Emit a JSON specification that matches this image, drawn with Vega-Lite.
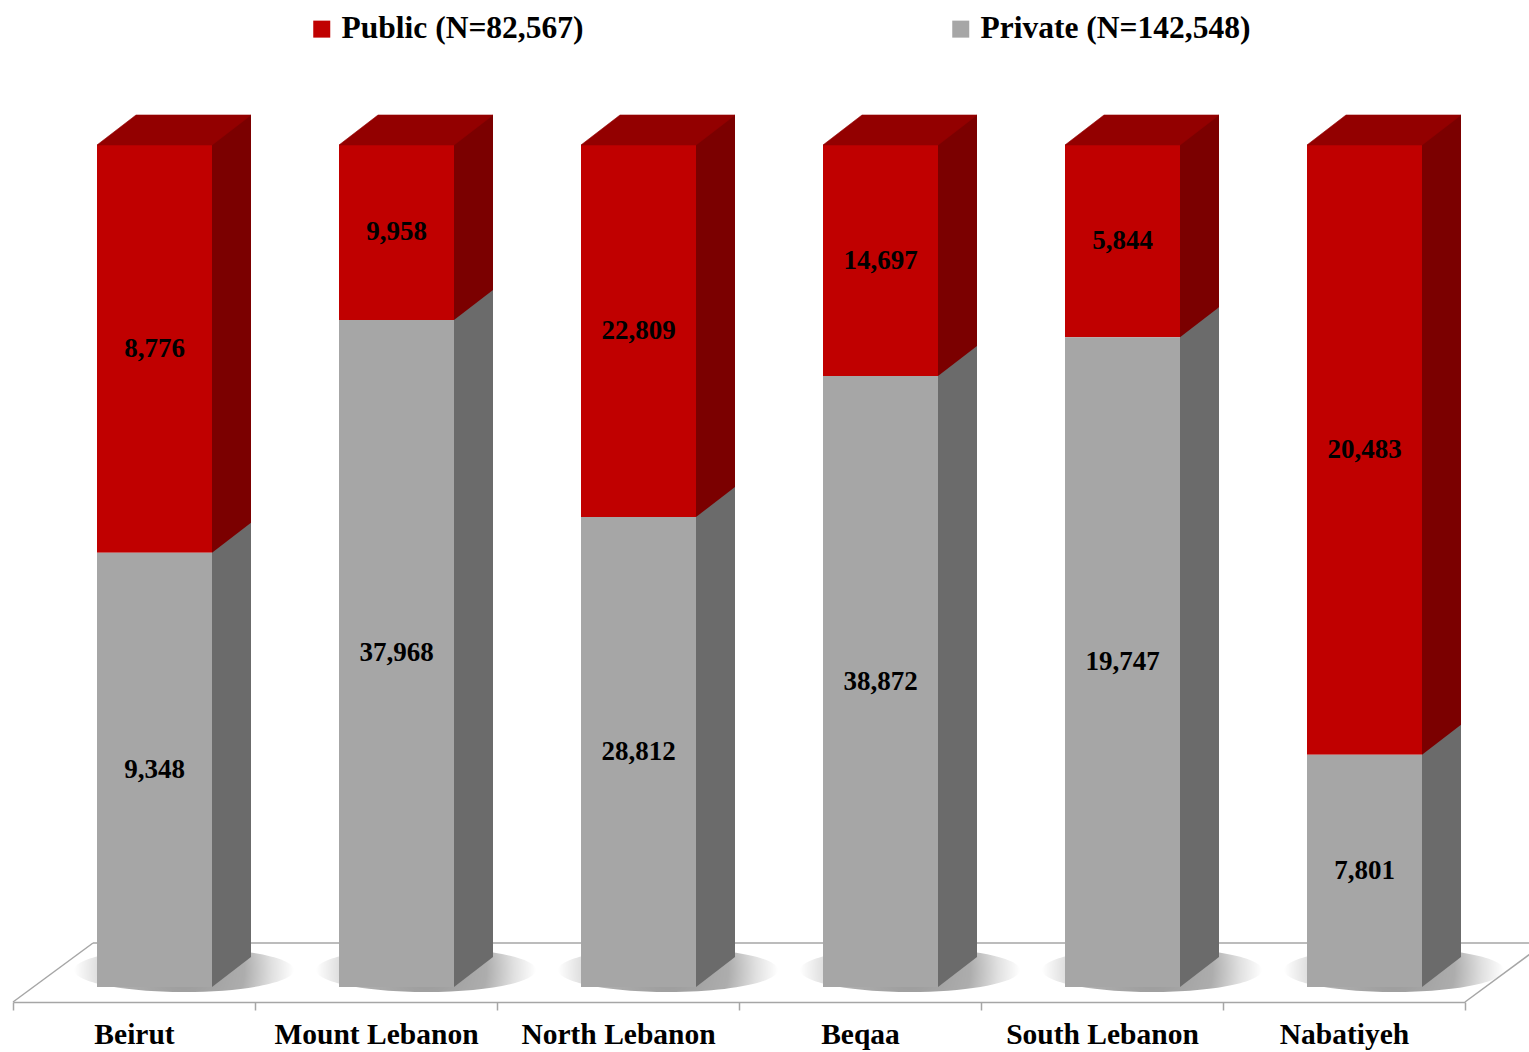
{
  "$schema": "https://vega.github.io/schema/vega-lite/v6.json",
  "width": 1452,
  "height": 842,
  "autosize": {"type": "none"},
  "padding": {"left": 13, "top": 145, "right": 64, "bottom": 65},
  "background": "white",
  "config": {
    "view": {"stroke": null},
    "font": "Liberation Serif",
    "axisX": {
      "offset": 15, "domainColor": "#A6A6A6", "domainWidth": 1.5,
      "tickColor": "#A6A6A6", "tickWidth": 1.5, "tickSize": 8, "tickBand": "extent",
      "labelFont": "Liberation Serif", "labelFontWeight": "bold", "labelFontSize": 29.5, "labelColor": "black",
      "labelPadding": 10, "labelAngle": 0, "labelLimit": 300, "grid": false
    }
  },
  "data": {
    "values": [
      {"region": "Beirut", "type": "Public", "value": 8776},
      {"region": "Beirut", "type": "Private", "value": 9348},
      {"region": "Mount Lebanon", "type": "Public", "value": 9958},
      {"region": "Mount Lebanon", "type": "Private", "value": 37968},
      {"region": "North Lebanon", "type": "Public", "value": 22809},
      {"region": "North Lebanon", "type": "Private", "value": 28812},
      {"region": "Beqaa", "type": "Public", "value": 14697},
      {"region": "Beqaa", "type": "Private", "value": 38872},
      {"region": "South Lebanon", "type": "Public", "value": 5844},
      {"region": "South Lebanon", "type": "Private", "value": 19747},
      {"region": "Nabatiyeh", "type": "Public", "value": 20483},
      {"region": "Nabatiyeh", "type": "Private", "value": 7801}
    ]
  },
  "layer": [
    {
      "transform": [{"filter": "datum.type === 'Public'"}],
      "mark": {
        "type": "point", "shape": "M-1,0A1,0.2 0 1,0 1,0A1,0.2 0 1,0 -1,0Z", "size": 48400,
        "filled": true, "opacity": 1, "strokeWidth": 0, "xOffset": 50, "yOffset": -17,
        "fill": {"gradient": "radial", "stops": [
          {"offset": 0, "color": "rgba(0,0,0,0.4)"},
          {"offset": 0.55, "color": "rgba(0,0,0,0.32)"},
          {"offset": 0.8, "color": "rgba(0,0,0,0.12)"},
          {"offset": 1, "color": "rgba(0,0,0,0)"}
        ]}
      },
      "encoding": {
        "x": {"field": "region", "type": "nominal", "sort": null, "title": null, "scale": {"domain": ["Beirut", "Mount Lebanon", "North Lebanon", "Beqaa", "South Lebanon", "Nabatiyeh"], "paddingInner": 0, "paddingOuter": 0}},
        "y": {"datum": 0, "type": "quantitative", "scale": {"domain": [0, 1], "nice": false}, "axis": null}
      }
    },
    {
      "data": {"values": [{}]},
      "mark": {"type": "rule", "color": "#A6A6A6", "strokeWidth": 1.5, "xOffset": -41, "x2Offset": 201, "yOffset": -44},
      "encoding": {
        "x": {"datum": "Beirut", "type": "nominal", "title": null},
        "x2": {"datum": "Nabatiyeh"},
        "y": {"datum": 0, "type": "quantitative", "axis": null}
      }
    },
    {
      "data": {"values": [{}]},
      "mark": {"type": "point", "shape": "M-1,0.7375L1,-0.7375", "size": 6400, "filled": false, "stroke": "#A6A6A6", "strokeWidth": 1.5, "opacity": 1, "xOffset": -81, "yOffset": -14.5},
      "encoding": {
        "x": {"datum": "Beirut", "type": "nominal", "title": null},
        "y": {"datum": 0, "type": "quantitative", "axis": null}
      }
    },
    {
      "data": {"values": [{}]},
      "mark": {"type": "point", "shape": "M-1,0.7375L1,-0.7375", "size": 6400, "filled": false, "stroke": "#A6A6A6", "strokeWidth": 1.5, "opacity": 1, "xOffset": 161, "yOffset": -14.5},
      "encoding": {
        "x": {"datum": "Nabatiyeh", "type": "nominal", "title": null},
        "y": {"datum": 0, "type": "quantitative", "axis": null}
      }
    },
    {
      "transform": [
        {"stack": "value", "groupby": ["region"], "sort": [{"field": "type", "order": "ascending"}], "offset": "normalize", "as": ["v0", "v1"]}
      ],
      "mark": {"type": "bar", "width": 39, "xOffset": 97.5, "yOffset": -30, "y2Offset": -30},
      "encoding": {
        "x": {"field": "region", "type": "nominal", "sort": null, "title": null},
        "y": {"field": "v0", "type": "quantitative", "axis": null},
        "y2": {"field": "v1"},
        "color": {"condition": {"test": "datum.type === 'Public'", "value": "#7B0000"}, "value": "#6B6B6B"}
      }
    },
    {
      "transform": [
        {"stack": "value", "groupby": ["region"], "sort": [{"field": "type", "order": "ascending"}], "offset": "normalize", "as": ["v0", "v1"]}
      ],
      "mark": {"type": "point", "shape": "M-1,-0.8205L-1,0.7692L1,-0.7692L1,-0.8205Z", "size": 1521, "filled": true, "opacity": 1, "strokeWidth": 0, "xOffset": 97.5, "yOffset": -15},
      "encoding": {
        "x": {"field": "region", "type": "nominal", "sort": null, "title": null},
        "y": {"field": "v0", "type": "quantitative", "axis": null},
        "color": {"condition": {"test": "datum.type === 'Public'", "value": "#7B0000"}, "value": "#6B6B6B"}
      }
    },
    {
      "transform": [
        {"stack": "value", "groupby": ["region"], "sort": [{"field": "type", "order": "ascending"}], "offset": "normalize", "as": ["v0", "v1"]}
      ],
      "mark": {"type": "bar", "width": 115, "xOffset": 20.5},
      "encoding": {
        "x": {"field": "region", "type": "nominal", "sort": null, "title": null},
        "y": {"field": "v0", "type": "quantitative", "axis": null},
        "y2": {"field": "v1"},
        "color": {
          "field": "type", "type": "nominal",
          "scale": {"domain": ["Public", "Private"], "range": ["#C00000", "#A6A6A6"]},
          "legend": {
            "title": null, "orient": "none", "legendX": 293, "legendY": -132, "direction": "horizontal",
            "symbolType": "square", "symbolSize": 289, "symbolStrokeWidth": 0,
            "labelFont": "Liberation Serif", "labelFontWeight": "bold", "labelFontSize": 31.5, "labelColor": "black",
            "labelOffset": 4, "columnPadding": 361, "labelLimit": 400, "padding": 0,
            "labelExpr": "datum.label === 'Public' ? 'Public (N=82,567)' : 'Private (N=142,548)'"
          }
        }
      }
    },
    {
      "transform": [
        {"stack": "value", "groupby": ["region"], "sort": [{"field": "type", "order": "ascending"}], "offset": "normalize", "as": ["v0", "v1"]},
        {"filter": "datum.type === 'Public'"}
      ],
      "mark": {"type": "point", "shape": "M-1,0.1948L0.4935,0.1948L1,-0.1948L-0.4935,-0.1948Z", "size": 23716, "filled": true, "opacity": 1, "strokeWidth": 0.6, "color": "#930000", "stroke": "#930000", "xOffset": 40, "yOffset": -15},
      "encoding": {
        "x": {"field": "region", "type": "nominal", "sort": null, "title": null},
        "y": {"field": "v1", "type": "quantitative", "axis": null}
      }
    },
    {
      "mark": {"type": "text", "xOffset": 20.5, "font": "Liberation Serif", "fontWeight": "bold", "fontSize": 27, "color": "black", "baseline": "middle", "align": "center"},
      "encoding": {
        "x": {"field": "region", "type": "nominal", "sort": null, "title": null},
        "y": {"field": "value", "type": "quantitative", "stack": "normalize", "bandPosition": 0.5, "axis": null},
        "detail": {"field": "type"},
        "order": {"field": "type", "sort": "ascending"},
        "text": {"field": "value", "type": "quantitative", "format": ","}
      }
    }
  ]
}
